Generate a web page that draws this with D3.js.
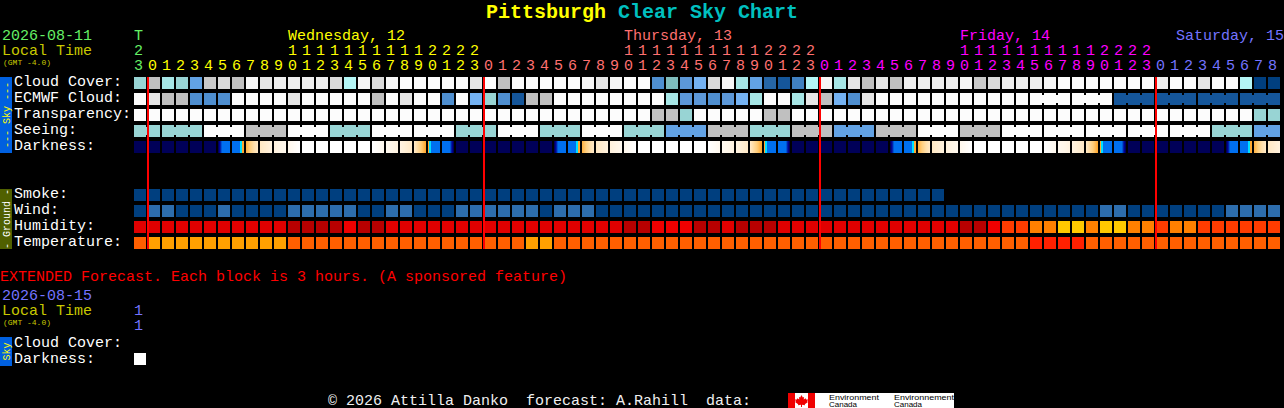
<!DOCTYPE html>
<html>
<head>
<meta charset="utf-8">
<title>Pittsburgh Clear Sky Chart</title>
<script src="https://cdn.jsdelivr.net/npm/d3@7"></script>
<style>
html,body{margin:0;padding:0;background:#000;overflow:hidden;}
svg{display:block;}
text{font-family:"Liberation Mono",monospace;white-space:pre;}
</style>
</head>
<body>
<svg id="chart" width="1284" height="408"></svg>
<script>
// ---------- data ----------
const hours = [23,
  0,1,2,3,4,5,6,7,8,9,10,11,12,13,14,15,16,17,18,19,20,21,22,23,
  0,1,2,3,4,5,6,7,8,9,10,11,12,13,14,15,16,17,18,19,20,21,22,23,
  0,1,2,3,4,5,6,7,8,9,10,11,12,13,14,15,16,17,18,19,20,21,22,23,
  0,1,2,3,4,5,6,7,8];
const midnightCols = [1,25,49,73];
const dayNames = ["Wednesday, 12","Thursday, 13","Friday, 14","Saturday, 15"];
const dayLabelCols = [11,35,59,74.43];

const cloudCover = [45,30,40,45,65,25,20,30,5,15,10,10,10,10,20,35,5,20,5,0,0,
  0,0,0,15,0,30,0,0,0,0,0,5,15,5,0,0,75,50,70,60,20,5,40,65,85,90,80,35,5,40,15,
  30,15,30,10,10,10,10,5,25,20,10,10,10,5,0,0,0,0,0,0,0,10,0,0,15,0,0,35,100,100];
const ecmwfCloud = [0,15,30,30,75,75,75,0,0,0,0,15,0,0,0,0,0,30,0,15,0,
  0,75,0,60,45,75,90,30,30,0,0,0,0,0,0,0,0,40,70,70,75,70,60,40,0,0,40,15,30,60,75,
  15,0,0,0,0,0,0,0,0,0,0,0,0,0,0,0,0,0,90,90,90,90,90,90,90,90,90,90,90,90];
const transparency = [0,0,0,0,0,0,0,0,0,0,0,0,0,0,0,0,0,0,0,0,0,
  0,0,0,0,0,0,0,0,0,0,0,0,0,0,0,0,30,30,45,0,0,0,0,0,30,30,0,0,0,0,0,
  0,0,0,0,0,0,0,0,0,0,0,0,0,0,0,0,0,0,0,0,0,0,0,0,0,0,0,0,45,45];
const seeing = [45,45,45,45,45,0,0,0,30,30,30,0,0,0,45,45,45,0,0,0,0,
  0,0,45,45,45,0,0,0,45,45,45,0,0,0,45,45,45,65,65,65,30,30,30,45,45,45,30,30,30,65,65,
  65,30,30,30,0,0,0,30,30,30,0,0,0,0,0,0,0,0,0,0,0,0,0,0,0,45,45,45,65,65];
const seeingBlockOffset = 1;
const ecmwfBlockStart = 64;

// darkness: level samples across each hour (0 day ... 9 full night)
const N = [9];
const W = [0];
const dawnA = [9,8,7.5,6.6,6,6,6,6,6,6,6,6];
const dawnB = [6,6,6,6,6,6,6,6,5,5,4,4];
const duskA = [4,5,5,6,6,6,6,6,6,6,6,6];
const duskB = [6,6,6,6,6,6,6,6,6.6,7.5,8,9];
const dayOpen = [[3.7,3,2.4,2],[2,1.3],[1.3,.8],[.8,0]];
const dayClose = [[0,.7],[.7,1.2],[1.2,1.9],[2,2.6,3.2,4]];
const darkness = [N,N,N,N,N,N,dawnA,dawnB,...dayOpen,W,W,W,W,W,...dayClose,duskA,duskB,
  N,N,N,N,N,N,N,dawnA,dawnB,...dayOpen,W,W,W,W,W,...dayClose,duskA,duskB,
  N,N,N,N,N,N,N,dawnA,dawnB,...dayOpen,W,W,W,W,W,...dayClose,duskA,duskB,
  N,N,N,N,N,N,N,dawnA,dawnB,[3.7,3,2.4,2],[2,1.3]];

const smoke = d3.range(58).map(() => 0);
const wind = [0,1,1,0,0,0,1,0,0,0,0,1,1,1,1,1,0,0,1,1,0,
  0,0,1,1,1,1,1,1,0,1,1,1,0,0,0,0,0,0,0,0,0,0,0,0,0,0,0,0,0,0,0,
  0,0,0,0,0,0,0,0,0,0,0,0,0,0,0,0,0,1,1,0,0,0,0,0,0,0,1,1,1,1];
const humidity = [3,3,3,3,3,3,3,3,3,3,3,2,2,2,2,4,2,2,3,3,3,
  3,3,3,3,3,3,3,3,3,3,3,3,3,3,2,2,4,4,4,2,2,3,2,2,2,3,3,3,3,3,3,
  3,3,3,3,3,3,3,2,2,4,5,5,6,6,7,7,6,7,7,6,6,5,6,6,5,5,5,5,5,5];
const temperature = [1,0,0,0,0,0,0,0,0,0,0,1,1,1,1,1,1,1,1,1,1,
  1,1,1,1,1,1,1,0,0,1,1,1,1,1,1,1,1,1,1,1,1,1,1,1,1,1,1,1,1,1,1,
  1,1,1,1,1,1,1,1,1,1,1,1,2,2,2,2,1,1,1,1,1,1,1,1,1,1,1,1,1,1];
const extendedDarkness = [0];

const skyLabels = ["Cloud Cover:","ECMWF Cloud:","Transparency:","Seeing:","Darkness:"];
const groundLabels = ["Smoke:","Wind:","Humidity:","Temperature:"];
const extLabels = ["Cloud Cover:","Darkness:"];

// ---------- palettes and scales ----------
const CELL = 12;
const x = d3.scaleLinear().domain([0,82]).range([134,1282]);
const skyY = d3.scaleLinear().domain([0,1]).range([77,93]);
const groundY = d3.scaleLinear().domain([0,1]).range([189,205]);
const coverColor = d3.scaleOrdinal()
  .domain([0,5,10,15,20,25,30,35,40,45,50,60,65,70,75,80,85,90,100])
  .range(["#fcfcfc","#f6f6f6","#eeeeee","#e6e6e6","#dadada","#c8c8c8","#c0c0c0","#b4f6f6","#a6e6e6","#98d4d4",
          "#7fbcbc","#74b2f2","#62a2e4","#5c98d8","#4f8fd0","#4080c0","#2666a6","#15569a","#003f7f"]);
const darkColor = d3.scaleLinear()
  .domain([0,1,2,3,4,5,6,7,8,9])
  .range(["#ffffff","#fff6e8","#ffe8c4","#ffd080","#ffa830","#00e0ff","#0070f0","#0040c0","#000090","#000058"]);
const smokeColor = d3.scaleOrdinal().domain([0]).range(["#003f7f"]);
const windColor = d3.scaleOrdinal().domain([0,1]).range(["#003f7f","#2d6dad"]);
const humColor = d3.scaleOrdinal().domain([2,3,4,5,6,7])
  .range(["#b80000","#e00000","#f00000","#ff3c00","#ff8000","#ffc800"]);
const tempColor = d3.scaleOrdinal().domain([0,1,2]).range(["#ffa000","#ff5f00","#ff2000"]);

const dayColor = ["#66f066","#ffff00","#ff7070","#ff00ff","#7474ff"];
const colDay = (i) => i === 0 ? 0 : Math.floor((i - 1) / 24) + 1;

// ---------- drawing ----------
const svg = d3.select("#chart");
svg.append("rect").attr("width",1284).attr("height",408).attr("fill","#000");

function label(t, px, py, fill, size){
  return svg.append("text").attr("x",px).attr("y",py).attr("fill",fill)
    .attr("font-size",size).text(t);
}

// title
const title = svg.append("text").attr("x",486).attr("y",18)
  .attr("font-size",20).attr("font-weight","bold");
title.append("tspan").attr("fill","#ffff00").text("Pittsburgh ");
title.append("tspan").attr("fill","#00c0c0").text("Clear Sky Chart");

// left header
label("2026-08-11",2,40,"#66f066",15);
label("Local Time",2,55,"#c8c800",15);
label("(GMT -4.0)",3,64.5,"#c8c800",8);

// hour headers
const hourG = svg.append("g").attr("font-size",15);
hourG.selectAll("text.ones").data(hours).join("text").attr("class","ones")
  .attr("x",(d,i)=>x(i)).attr("y",70).attr("fill",(d,i)=>dayColor[colDay(i)])
  .text(d=>d%10);
hourG.selectAll("text.tens").data(hours).join("text").attr("class","tens")
  .attr("x",(d,i)=>x(i)).attr("y",55).attr("fill",(d,i)=>dayColor[colDay(i)])
  .text(d=>d>=10?Math.floor(d/10):"");
label("T",x(0),40,dayColor[0],15);
hourG.selectAll("text.day").data(dayNames).join("text").attr("class","day")
  .attr("x",(d,i)=>x(dayLabelCols[i])).attr("y",40).attr("fill",(d,i)=>dayColor[i+1])
  .text(d=>d);

// row labels
skyLabels.forEach((t,k)=>label(t,14,skyY(k)+9,"#fff",15));
groundLabels.forEach((t,k)=>label(t,14,groundY(k)+9,"#fff",15));

// side bars
function sideBar(y0,h,fill,textFill,t){
  svg.append("rect").attr("x",0).attr("y",y0).attr("width",12).attr("height",h).attr("fill",fill);
  svg.append("text").attr("transform",`translate(9.5,${y0+h/2}) rotate(-90)`)
    .attr("text-anchor","middle").attr("font-size",10).attr("fill",textFill).text(t);
}
sideBar(77,76,"#0060e0","#ffff00","--- Sky ---");
sideBar(189,60,"#506000","#ffffff","- Ground -");
sideBar(337,29,"#0060e0","#ffff00","Sky");

// plain cell rows
function cellRow(values,rowY,color){
  svg.append("g").selectAll("rect").data(values).join("rect")
    .attr("x",(d,i)=>x(i)).attr("y",rowY).attr("width",CELL).attr("height",CELL)
    .attr("fill",d=>color(d));
}
cellRow(cloudCover,skyY(0),coverColor);
cellRow(ecmwfCloud,skyY(1),coverColor);
cellRow(transparency,skyY(2),coverColor);
cellRow(seeing,skyY(3),coverColor);

// joined blocks
const joinRow = (values,rowY,test) => svg.append("g").selectAll("rect")
  .data(d3.range(values.length-1).filter(test)).join("rect")
  .attr("x",i=>x(i)+CELL).attr("y",rowY+2).attr("width",2).attr("height",CELL-4)
  .attr("fill",i=>coverColor(values[i]));
joinRow(seeing,skyY(3),i=>(i+seeingBlockOffset)%3!==2);
joinRow(ecmwfCloud,skyY(1),i=>i>=ecmwfBlockStart && (i-ecmwfBlockStart)%3!==2);

// darkness row, one stripe per pixel of the cell
function darkStripes(cols,rowY){
  const stripes = [];
  cols.forEach((samples,i)=>{
    const lvl = samples.length===1 ? ()=>samples[0]
      : d3.scaleLinear().domain(samples.map((s,k)=>k/(samples.length-1)*(CELL-1))).range(samples);
    d3.range(CELL).forEach(p=>stripes.push({col:i,p,v:lvl(p)}));
  });
  svg.append("g").attr("shape-rendering","crispEdges").selectAll("rect").data(stripes).join("rect")
    .attr("x",d=>x(d.col)+d.p).attr("y",rowY).attr("width",1).attr("height",CELL)
    .attr("fill",d=>darkColor(d.v));
}
darkStripes(darkness,skyY(4));

cellRow(smoke,groundY(0),smokeColor);
cellRow(wind,groundY(1),windColor);
cellRow(humidity,groundY(2),humColor);
cellRow(temperature,groundY(3),tempColor);

// midnight lines
svg.append("g").selectAll("rect").data(midnightCols).join("rect")
  .attr("x",d=>x(d)-1).attr("y",77).attr("width",2).attr("height",172).attr("fill","#ff0000");

// extended forecast
label("EXTENDED Forecast. Each block is 3 hours. (A sponsored feature)",0,281,"#ff0000",15);
label("2026-08-15",2,300,dayColor[4],15);
label("Local Time",2,315,"#c8c800",15);
label("(GMT -4.0)",3,324.5,"#c8c800",8);
label("1",x(0),315,dayColor[4],15);
label("1",x(0),330,dayColor[4],15);
extLabels.forEach((t,k)=>label(t,14,347+k*16,"#fff",15));
svg.append("g").selectAll("rect").data(extendedDarkness).join("rect")
  .attr("x",(d,i)=>x(i)).attr("y",353).attr("width",CELL).attr("height",CELL)
  .attr("fill",d=>darkColor(d));

// footer
label("\u00a9 2026 Attilla Danko  forecast: A.Rahill  data:",328,404.5,"#f0f0f0",15);
const logo = svg.append("g");
logo.append("rect").attr("x",788).attr("y",393).attr("width",166).attr("height",15).attr("fill","#fff");
logo.append("rect").attr("x",788).attr("y",393).attr("width",7).attr("height",15).attr("fill","#f00000");
logo.append("rect").attr("x",808).attr("y",393).attr("width",7).attr("height",15).attr("fill","#f00000");
logo.append("path").attr("fill","#f00000")
  .attr("d","M801.5 395 l1.3 2.6 1.3-.6 -.4 2.6 2-1.4 .4 1.4 1.9-.2 -.8 2 .8.6 -3.2 2.2 .2 1 -3-.4 0 2.2 -1 0 0-2.2 -3 .4 .2-1 -3.2-2.2 .8-.6 -.8-2 1.9.2 .4-1.4 2 1.4 -.4-2.6 1.3.6z");
function logoText(t,px,py,len){
  svg.append("text").attr("x",px).attr("y",py).attr("fill","#000")
    .attr("font-size",7.5)
    .attr("style","font-family:'Liberation Sans'")
    .attr("textLength",len).attr("lengthAdjust","spacingAndGlyphs").text(t);
}
logoText("Environment",829,399.5,50);
logoText("Canada",829,406.5,28);
logoText("Environnement",894,399.5,60);
logoText("Canada",894,406.5,28);
</script>
</body>
</html>
